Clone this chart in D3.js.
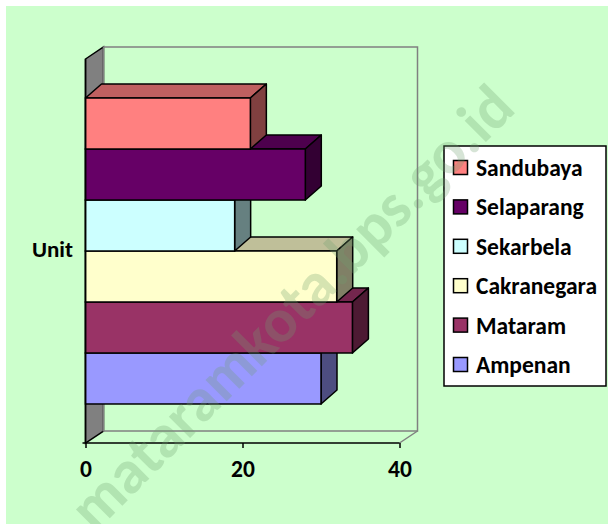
<!DOCTYPE html>
<html>
<head>
<meta charset="utf-8">
<script src="https://cdnjs.cloudflare.com/ajax/libs/d3/7.8.5/d3.min.js"></script>
<style>
  body { margin: 0; background: white; }
  text { font-family: Carlito, Lato, "Open Sans", sans-serif; font-weight: bold; }
</style>
</head>
<body>
<script>

// data, bottom bar first
var seriesNames = ["Ampenan", "Mataram", "Cakranegara", "Sekarbela", "Selaparang", "Sandubaya"];
var seriesValues = [30, 34, 32, 19, 28, 21];
var seriesColors = ["#9999FF", "#993366", "#FFFFCC", "#CCFFFF", "#660066", "#FF8080"];
var categories = ["Unit"];
var xTicks = [0, 20, 40];

var width = 608, height = 524;

var svg = d3.select("body").append("svg")
    .attr("width", width)
    .attr("height", height);

svg.append("rect")
    .attr("x", 6).attr("y", 6)
    .attr("width", width - 6).attr("height", height - 6)
    .attr("fill", "#CCFFCC");

// plot front area
var plotLeft = 85.5, plotRight = 399.5, plotTop = 59, plotBottom = 443;
var wallDx = 18, wallDy = -12;   // depth of the walls
var barDx = 16, barDy = -14;     // depth of the bars

var x = d3.scaleLinear().domain([0, 40]).range([plotLeft, plotRight]);
var yCat = d3.scaleBand().domain(categories).range([plotBottom, plotTop]);
var y = d3.scaleBand().domain(seriesNames)
    .range([yCat(categories[0]) + yCat.bandwidth(), yCat(categories[0])])
    .paddingOuter(0.765).paddingInner(0);

// walls
svg.append("polygon")
    .attr("points", [[plotLeft, plotTop], [plotLeft + wallDx, plotTop + wallDy], [plotLeft + wallDx, plotBottom + wallDy], [plotLeft, plotBottom]].join(" "))
    .attr("fill", "#808080")
    .attr("stroke", "#000").attr("stroke-width", 1.5);

svg.append("rect")
    .attr("x", plotLeft + wallDx).attr("y", plotTop + wallDy)
    .attr("width", plotRight - plotLeft).attr("height", plotBottom - plotTop)
    .attr("fill", "none")
    .attr("stroke", "#808080").attr("stroke-width", 1.5);

svg.append("line")
    .attr("x1", plotRight + wallDx).attr("y1", plotBottom + wallDy)
    .attr("x2", plotRight).attr("y2", plotBottom)
    .attr("stroke", "#808080").attr("stroke-width", 1.5);

// x axis
var xAxis = svg.append("g")
    .attr("transform", "translate(0," + plotBottom + ")")
    .call(d3.axisBottom(x).tickValues(xTicks).tickSize(5).tickSizeOuter(0).tickPadding(12));
xAxis.select(".domain").attr("stroke", "#000").attr("stroke-width", 1.5).attr("d", "M" + (plotLeft - 3) + ",0H" + plotRight);
xAxis.selectAll(".tick line").attr("stroke", "#000").attr("stroke-width", 1.5);
xAxis.selectAll(".tick text")
    .attr("fill", "#000")
    .style("font-size", "23.5px")
    .attr("dy", "0.71em");

// bars, from bottom to top
var bars = svg.append("g");
seriesNames.forEach(function (name, i) {
    var v = seriesValues[i];
    var c = d3.rgb(seriesColors[i]);
    var topC = d3.rgb(c.r * 0.75, c.g * 0.75, c.b * 0.75);
    var sideC = d3.rgb(c.r * 0.5, c.g * 0.5, c.b * 0.5);
    var x0 = x(0), x1 = x(v);
    var y0 = y(name), y1 = y(name) + y.bandwidth();
    var g = bars.append("g");
    g.append("polygon")
        .attr("points", [[x0, y0], [x0 + barDx, y0 + barDy], [x1 + barDx, y0 + barDy], [x1, y0]].join(" "))
        .attr("fill", topC).attr("stroke", "#000").attr("stroke-width", 1.5).attr("stroke-linejoin", "round");
    g.append("polygon")
        .attr("points", [[x1, y0], [x1 + barDx, y0 + barDy], [x1 + barDx, y1 + barDy], [x1, y1]].join(" "))
        .attr("fill", sideC).attr("stroke", "#000").attr("stroke-width", 1.5).attr("stroke-linejoin", "round");
    g.append("rect")
        .attr("x", x0).attr("y", y0)
        .attr("width", x1 - x0).attr("height", y1 - y0)
        .attr("fill", c).attr("stroke", "#000").attr("stroke-width", 1.5);
});

// y axis line
svg.append("line")
    .attr("x1", plotLeft).attr("y1", plotTop).attr("x2", plotLeft).attr("y2", plotBottom)
    .attr("stroke", "#000").attr("stroke-width", 1.5);

// category label
svg.append("text")
    .attr("x", 73).attr("y", 257)
    .attr("text-anchor", "end")
    .style("font-size", "23px")
    .text(categories[0]);

// legend
var legend = svg.append("g");
legend.append("rect")
    .attr("x", 444).attr("y", 146)
    .attr("width", 162).attr("height", 240)
    .attr("fill", "#fff").attr("stroke", "#000").attr("stroke-width", 1.5);

var legendOrder = seriesNames.slice().reverse();
legendOrder.forEach(function (name, i) {
    var cy = 168 + i * 39.4;
    var idx = seriesNames.indexOf(name);
    legend.append("rect")
        .attr("x", 453.5).attr("y", cy - 7.5)
        .attr("width", 14).attr("height", 14)
        .attr("fill", seriesColors[idx]).attr("stroke", "#000").attr("stroke-width", 1.5);
    legend.append("text")
        .attr("x", 476).attr("y", cy + 8)
        .style("font-size", "23.5px")
        .text(name);
});

// watermark
svg.append("text")
    .attr("transform", "translate(306,322) rotate(-45)")
    .attr("text-anchor", "middle")
    .attr("fill", "#6f9f6f")
    .attr("opacity", 0.28)
    .style("font-size", "62px")
    .text("mataramkota.bps.go.id");

</script>
</body>
</html>
